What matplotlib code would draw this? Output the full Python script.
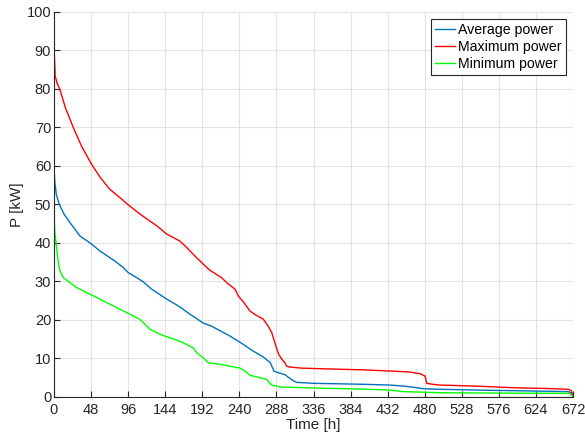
import matplotlib
matplotlib.use('Agg')
import matplotlib.pyplot as plt
import numpy as np

plt.rcParams['font.family'] = ['Liberation Sans', 'DejaVu Sans']
plt.rcParams['font.size'] = 10

# 持続曲線 (時間 [h], 電力 [kW]) - 図から読み取った値
t_max = [0, 0.3, 1.5, 4, 7.4, 15, 25, 36, 48.8, 60, 72, 84, 96.2, 111.4, 122, 133, 146, 163,
         172, 183, 193.3, 202, 217, 223.6, 234.4, 238.7, 246, 253.8, 262, 271, 277, 282,
         286.5, 290.8, 295, 299, 301, 305, 320, 344, 400, 435, 460, 474, 480.4, 482.6,
         490, 500, 550, 595, 640, 666, 670, 672]
p_max = [93.8, 90, 83.4, 81.5, 80, 75, 70, 65, 60.4, 57, 54, 52, 49.9, 47.5, 46, 44.5,
         42.3, 40.5, 38.8, 36.5, 34.5, 32.9, 31.0, 29.7, 28.0, 26.2, 24.5, 22.3, 21.2, 20.2,
         18.5, 16.7, 13.7, 11.1, 9.8, 8.9, 8.05, 7.8, 7.5, 7.35, 7.05, 6.75, 6.5, 6.05,
         5.45, 3.56, 3.3, 3.1, 2.8, 2.4, 2.2, 2.0, 1.6, 0]

t_avg = [0, 1, 3, 6.9, 13, 20.7, 33.7, 47.5, 59.6, 79, 89.8, 96.2, 107, 115.7, 126.5, 144.6,
         163, 176, 193.3, 204, 228, 241, 258, 271, 280, 285, 292, 299, 305, 310, 314, 336,
         400, 435, 452, 466, 478, 500, 560, 620, 666, 670, 672]
p_avg = [59.6, 56, 52.6, 50, 47.5, 45.3, 41.8, 39.9, 37.9, 35.3, 33.6, 32.3, 31.0, 29.9, 28.0,
         25.6, 23.4, 21.5, 19.2, 18.4, 15.8, 14.2, 11.9, 10.4, 8.9, 6.7, 6.2, 5.8, 4.9, 4.2,
         3.8, 3.55, 3.3, 3.1, 2.85, 2.5, 2.15, 2.0, 1.75, 1.55, 1.4, 1.0, 0]

t_min = [0, 1, 3.3, 5.5, 7.8, 12, 20, 29.4, 48.8, 72.5, 85.5, 98.4, 111, 115.7, 124.3, 137,
         143.7, 163, 180, 184.7, 193.3, 200, 215, 241, 247, 254, 265, 275, 282, 292.6, 344,
         400, 435, 452, 500, 580, 666, 670, 672]
p_min = [47.9, 43, 38.8, 35, 32.7, 31, 29.8, 28.4, 26.5, 24.1, 22.8, 21.5, 20.2, 19.3, 17.6,
         16.3, 15.8, 14.5, 12.8, 11.5, 10.2, 8.9, 8.5, 7.5, 6.8, 5.6, 5.1, 4.6, 3.1, 2.6, 2.3,
         2.05, 1.8, 1.4, 1.1, 1.0, 0.95, 0.6, 0]

x_ticks = np.arange(0, 673, 48)
y_ticks = np.arange(0, 101, 10)

fig = plt.figure(figsize=(5.85, 4.41), dpi=100)
ax = fig.add_axes([0.0923, 0.0998, 0.9795 - 0.0923, 0.9728 - 0.0998])

ax.plot(t_avg, p_avg, color='#0072BD', linewidth=1.0, label='Average power')
ax.plot(t_max, p_max, color='#FF0000', linewidth=1.0, label='Maximum power')
ax.plot(t_min, p_min, color='#00FF00', linewidth=1.0, label='Minimum power')

ax.set_xlim(0, 672)
ax.set_ylim(0, 100)
ax.set_xticks(x_ticks)
ax.set_yticks(y_ticks)
ax.grid(True, color='#E3E3E3', linewidth=0.8)
ax.set_axisbelow(True)

for side in ['top', 'right']:
    ax.spines[side].set_visible(False)
for side in ['left', 'bottom']:
    ax.spines[side].set_color('#262626')
    ax.spines[side].set_linewidth(0.8)
ax.tick_params(direction='in', length=4, width=0.8, colors='#262626', labelsize=10.5,
               top=False, right=False)
ax.tick_params(axis='x', pad=4)
ax.tick_params(axis='y', pad=2)

ax.set_xlabel('Time [h]', fontsize=11, color='#262626', labelpad=1)
ax.set_ylabel('P [kW]', fontsize=11, color='#262626', labelpad=2)

leg = ax.legend(loc='upper right', fontsize=10.2, fancybox=False, framealpha=1,
                edgecolor='#262626', handlelength=1.45, handletextpad=0.2,
                borderpad=0.3, labelspacing=0.2, borderaxespad=0.5)
leg.get_frame().set_linewidth(0.8)

plt.savefig('out.png', dpi=100)
plt.close()
